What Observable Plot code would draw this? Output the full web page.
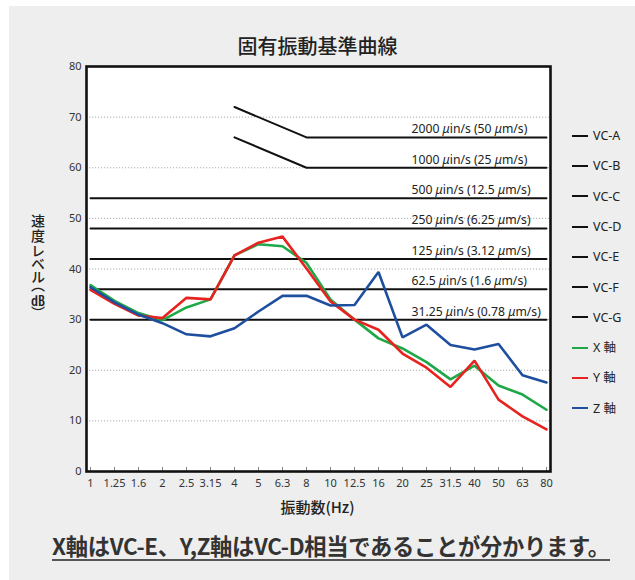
<!DOCTYPE html>
<html>
<head>
<meta charset="utf-8">
<script src="https://cdn.jsdelivr.net/npm/d3@7"></script>
<script src="https://cdn.jsdelivr.net/npm/@observablehq/plot@0.6"></script>
<style>
  html, body { margin: 0; padding: 0; background: #fff; width: 635px; height: 580px; overflow: hidden; }
  body { position: relative; font-family: "Noto Sans CJK JP", "Noto Sans", sans-serif; }
  #panel { position: absolute; left: 9px; top: 6px; width: 626px; height: 574px; background: #edeeed; }
  #title { position: absolute; left: 0; width: 635px; top: 32px; text-align: center; font-size: 20px; font-weight: 500; color: #222; line-height: 28px; }
  #chart { position: absolute; left: 0; top: 0; }
  #ylabel { position: absolute; left: 28px; top: 214px; height: 130px; width: 20px; writing-mode: vertical-rl; text-orientation: mixed; font-size: 14px; color: #222; line-height: 20px; font-weight: 500; letter-spacing: 1px; font-feature-settings: "vpal" 1; }
  #ylabel .tcy { text-combine-upright: all; font-size: 14px; letter-spacing: 0; }
  #xlabel { position: absolute; left: 0; width: 635px; top: 496px; text-align: center; font-size: 15px; font-weight: 500; color: #222; }
  #legend { position: absolute; left: 572px; top: 0; }
  .lg { position: absolute; left: 0; height: 16px; white-space: nowrap; font-family: "Noto Sans", "Noto Sans CJK JP", sans-serif; font-size: 12.5px; color: #222; line-height: 16px; }
  .lg .sw { display: inline-block; width: 16px; height: 2px; vertical-align: middle; margin-right: 5px; position: relative; top: -1px; }
  #caption { position: absolute; left: 52px; top: 532px; font-size: 22.3px; font-weight: 700; color: #333; line-height: 27px; border-bottom: 2px solid #555; padding-bottom: 0px; white-space: nowrap; letter-spacing: -0.3px; }
</style>
</head>
<body>
<div id="panel"></div>
<div id="title"></div>
<div id="chart"></div>
<div id="ylabel"></div>
<div id="xlabel"></div>
<div id="legend"></div>
<div id="caption"></div>
<script>
// ---- data ----
const titleText = "固有振動基準曲線";
const yLabelMain = "速度レベル";
const yLabelUnit = "dB";
const xLabelText = "振動数(Hz)";
const captionText = "X軸はVC-E、Y,Z軸はVC-D相当であることが分かります。";
const freqs = ["1","1.25","1.6","2","2.5","3.15","4","5","6.3","8","10","12.5","16","20","25","31.5","40","50","63","80"];
const yTicks = [0,10,20,30,40,50,60,70,80];

const seriesNames = ["X 軸", "Y 軸", "Z 軸"];
const seriesColors = ["#1fa84a", "#e8231f", "#1e4f9e"];
const xAxisVals = [36.8,33.7,31.3,29.9,32.4,34.0,42.7,44.9,44.5,41.2,34.0,30.0,26.3,24.3,21.6,18.2,20.9,17.0,15.2,12.2];
const yAxisVals = [35.9,33.1,30.8,30.3,34.3,34.0,42.7,45.2,46.4,40.1,33.6,30.0,28.0,23.3,20.5,16.7,21.9,14.2,10.9,8.3];
const zAxisVals = [36.4,33.4,31.0,29.3,27.1,26.7,28.3,31.6,34.7,34.7,32.8,32.9,39.4,26.5,29.0,25.0,24.1,25.2,19.0,17.6];

const vcNames = ["VC-A","VC-B","VC-C","VC-D","VC-E","VC-F","VC-G"];
const vcLevels = [66,60,54,48,42,36,30];
const vcLeftFreq = ["4","4","1","1","1","1","1"];
const vcLeftLevel = [72,66,54,48,42,36,30];
const vcKneeFreq = ["8","8","1","1","1","1","1"];
const vcLabels = ["2000 μin/s (50 μm/s)","1000 μin/s (25 μm/s)","500 μin/s (12.5 μm/s)","250 μin/s (6.25 μm/s)","125 μin/s (3.12 μm/s)","62.5 μin/s (1.6 μm/s)","31.25 μin/s (0.78 μm/s)"];
const vcLabelFreq = "20";

// ---- tables ----
const series = [xAxisVals, yAxisVals, zAxisVals];
const dataRows = [];
series.forEach((vals, s) => vals.forEach((v, i) => dataRows.push({f: freqs[i], v, name: seriesNames[s]})));
const vcRows = [];
vcNames.forEach((n, k) => {
  vcRows.push({f: vcLeftFreq[k], v: vcLeftLevel[k], name: n});
  if (vcKneeFreq[k] !== vcLeftFreq[k]) vcRows.push({f: vcKneeFreq[k], v: vcLevels[k], name: n});
  vcRows.push({f: freqs[freqs.length - 1], v: vcLevels[k], name: n});
});
const vcTable = vcNames.map((n, k) => ({name: n, level: vcLevels[k], label: vcLabels[k]}));

const chart = Plot.plot({
  width: 635,
  height: 500,
  marginLeft: 86,
  marginRight: 85,
  marginTop: 66,
  marginBottom: 29,
  style: {background: "transparent", fontFamily: "'Noto Sans', sans-serif", fontSize: "11px", color: "#333"},
  x: {type: "point", domain: freqs, padding: 0},
  y: {domain: [0, 80]},
  color: {domain: seriesNames, range: seriesColors},
  marks: [
    Plot.frame({fill: "white", stroke: null}),
    Plot.gridY(yTicks.filter(t => t > 0 && t < 80), {stroke: "#999", strokeOpacity: 1, strokeWidth: 0.8, strokeDasharray: "1.2,1.8"}),
    Plot.ruleX(freqs, {x: d => d, y1: 0, y2: 0.8, stroke: "#888", strokeWidth: 1}),
    Plot.line(vcRows, {x: "f", y: "v", z: "name", stroke: "#111", strokeWidth: 2}),
    Plot.text(vcTable, {x: () => vcLabelFreq, y: "level", text: "label", textAnchor: "start", dx: 9, dy: -8, fontSize: 12.2, fill: "#222", className: "vclabel"}),
    Plot.line(dataRows, {x: "f", y: "v", z: "name", stroke: "name", strokeWidth: 2.6, strokeLinejoin: "miter"}),
    Plot.axisY(yTicks, {tickSize: 0, tickPadding: 5, label: null, fontSize: 11, fill: "#333"}),
    Plot.axisX({tickSize: 0, tickPadding: 8, label: null, fontSize: 11, fill: "#333"}),
    Plot.frame({stroke: "#111", strokeWidth: 2.6})
  ]
});
document.getElementById("chart").appendChild(chart);

// italic micro sign in VC labels
chart.querySelectorAll(".vclabel text").forEach(t => {
  t.innerHTML = t.textContent.replace(/μ/g, '<tspan font-style="italic">μ</tspan>');
});

document.getElementById("title").textContent = titleText;
document.getElementById("xlabel").textContent = xLabelText;
document.getElementById("caption").textContent = captionText;
document.getElementById("ylabel").innerHTML = yLabelMain + '（<span class="tcy">' + yLabelUnit + '</span>）';

// legend aligned with VC levels, then series
const legend = document.getElementById("legend");
const items = vcNames.map(n => ({name: n, color: "#111"})).concat(seriesNames.map((n, i) => ({name: n, color: seriesColors[i]})));
items.forEach((it, i) => {
  const d = document.createElement("div");
  d.className = "lg";
  d.style.top = (128 + i * 30.3) + "px";
  d.innerHTML = '<span class="sw" style="background:' + it.color + '"></span>' + it.name;
  legend.appendChild(d);
});
</script>
</body>
</html>
